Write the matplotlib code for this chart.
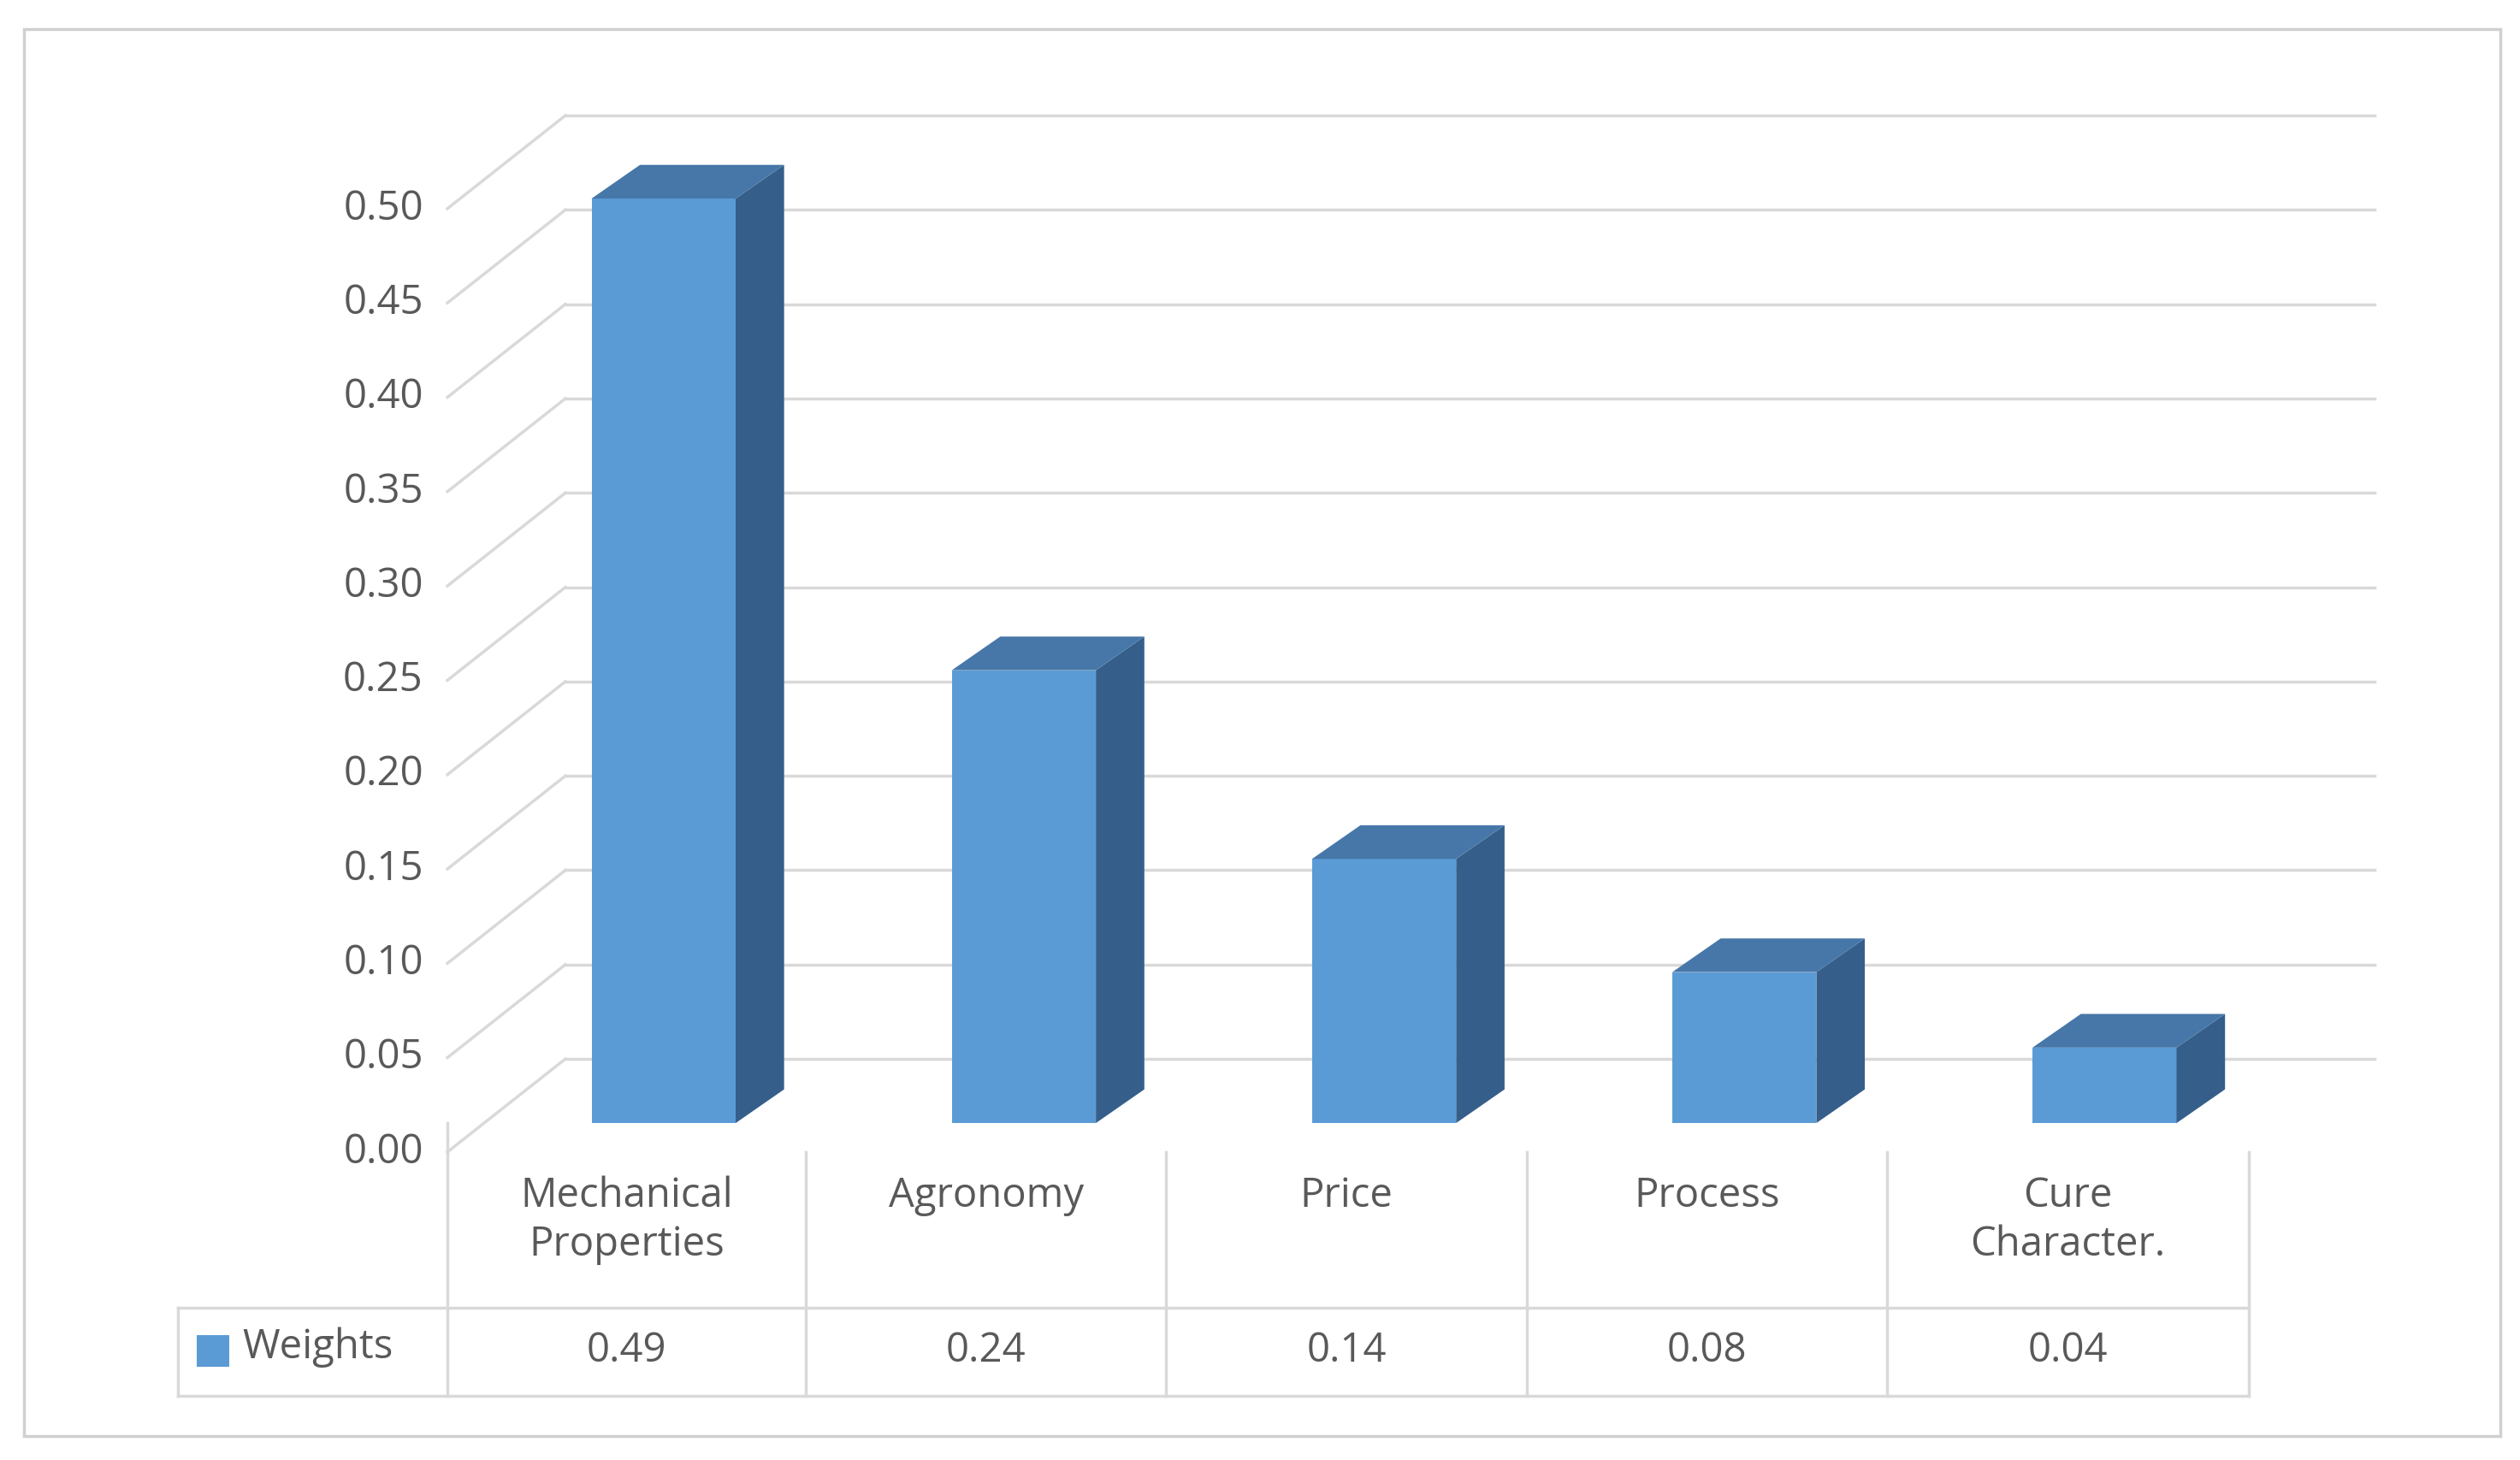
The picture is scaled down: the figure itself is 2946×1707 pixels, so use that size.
import matplotlib.pyplot as plt
from matplotlib.patches import Polygon, Rectangle

# ----------------------------------------------------------
# Data
# ----------------------------------------------------------
categories = ["Mechanical\nProperties", "Agronomy", "Price", "Process", "Cure\nCharacter."]
weights = [0.49, 0.24, 0.14, 0.08, 0.04]
weight_labels = ["0.49", "0.24", "0.14", "0.08", "0.04"]
yticks = [0.00, 0.05, 0.10, 0.15, 0.20, 0.25, 0.30, 0.35, 0.40, 0.45, 0.50]

FRONT = "#5B9BD5"
SIDE = "#355F8A"
TOP = "#4677A8"
GRID = "#D9D9D9"
TXT = "#595959"
FONT = "Open Sans"

# reference layout (pixels of a 1560x910 view)
W, H = 1560, 910
X0, X1 = 277, 1392          # category -0.5 .. 4.5
Y0, YT = 718, 72            # value 0 at front floor, top of plot area
PXV = 1176                  # pixels per unit value


def cx(px):
    return -0.5 + (px - X0) / ((X1 - X0) / 5)


def vy(py):
    return (Y0 - py) / PXV


fig = plt.figure(figsize=(29.46, 17.07), dpi=100)
ax = fig.add_axes([X0 / W, 1 - Y0 / H, (X1 - X0) / W, (Y0 - YT) / H])
ax.set_xlim(-0.5, 4.5)
ax.set_ylim(0, vy(YT))
ax.axis("off")

# outer frame
fig.add_artist(Rectangle((15 / W, 1 - 895 / H), (1548 - 15) / W, (895 - 18) / H,
                         transform=fig.transFigure, fill=False, ec="#D0D0D0", lw=2.5))

# walls: back gridlines + side diagonals
dv_wall = 58 / PXV
xb0, xb1 = cx(350), cx(1470)
for t in yticks:
    ax.plot([xb0, xb1], [t + dv_wall, t + dv_wall], color=GRID, lw=2.5, clip_on=False, zorder=1)
    ax.plot([-0.5, xb0], [t, t + dv_wall], color=GRID, lw=2.5, clip_on=False, zorder=1)
    ax.text(cx(262), t, f"{t:.2f}", ha="right", va="center", fontsize=34,
            color=TXT, family=FONT)
ax.plot([-0.5, -0.5], [0, vy(700)], color=GRID, lw=2.5, clip_on=False)

# 3D bars
off = vy(700)
bw = 0.4
shift = 0.1
ddx = 30 / 223
ddv = 21 / PXV
for i, w in enumerate(weights):
    l, r = i + shift - bw / 2, i + shift + bw / 2
    b, t = off, w + off
    ax.add_patch(Polygon([(l, b), (r, b), (r, t), (l, t)], closed=True,
                         fc=FRONT, ec="none", zorder=3))
    ax.add_patch(Polygon([(r, b), (r + ddx, b + ddv), (r + ddx, t + ddv), (r, t)],
                         closed=True, fc=SIDE, ec="none", zorder=3))
    ax.add_patch(Polygon([(l, t), (r, t), (r + ddx, t + ddv), (l + ddx, t + ddv)],
                         closed=True, fc=TOP, ec="none", zorder=3))

# data table
col_px = [277, 499, 722, 945, 1168, 1392]
for px in col_px:
    ax.plot([cx(px), cx(px)], [vy(718), vy(870)], color=GRID, lw=2.5, clip_on=False)
for py in [815, 870]:
    ax.plot([cx(110), cx(1392)], [vy(py), vy(py)], color=GRID, lw=2.5, clip_on=False)
ax.plot([cx(110), cx(110)], [vy(815), vy(870)], color=GRID, lw=2.5, clip_on=False)

for i, (c, lab) in enumerate(zip(categories, weight_labels)):
    xc = cx((col_px[i] + col_px[i + 1]) / 2)
    ax.text(xc, vy(733), c, ha="center", va="top", fontsize=34, color=TXT,
            family=FONT, linespacing=1.25)
    ax.text(xc, vy(842), lab, ha="center", va="center", fontsize=34, color=TXT,
            family=FONT)

ax.add_patch(Rectangle((cx(122), vy(852)), cx(142) - cx(122), vy(832) - vy(852),
                       fc=FRONT, ec="none", clip_on=False))
ax.text(cx(150), vy(840), "Weights", ha="left", va="center", fontsize=34,
        color=TXT, family=FONT)

fig.savefig("out.png", dpi=100, facecolor="white")
